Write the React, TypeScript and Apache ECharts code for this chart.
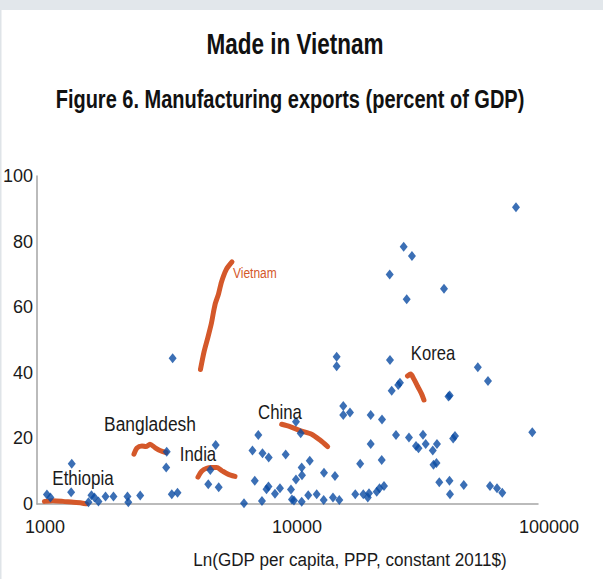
import React, { useEffect, useRef } from "react";
import * as echarts from "echarts";

const FONT = '"Liberation Sans", Arial, sans-serif';

// Scatter: GDP per capita (PPP, constant 2011$) vs manufacturing exports (% of GDP)
const gdpPerCapita = [
  1018, 1051, 1277, 1270, 1488, 1529, 1572, 1630, 1739, 1870, 2125, 2141, 2387, 3041, 3027, 3186, 3357, 3211,
  4758, 4529, 4446, 4891, 6163, 7022, 6659, 7296, 7722, 9020, 6800, 7262, 7568, 7707, 8178, 8560, 9466, 9553,
  9730, 9909, 9909, 10344, 10440, 10440, 10467, 11238, 11084, 11973, 12798, 12764, 14150, 13895, 14720, 14370,
  14370, 15266, 15266, 16232, 17815, 17034, 18332, 19310, 19100, 20718, 21257, 22148, 19614, 21747, 19614, 21690,
  23390, 23760, 25230, 25620, 23330, 26510, 28590, 27250, 38320, 73960, 24710, 27820, 31620, 32410, 29670, 30350,
  34580, 35930, 34810, 35770, 36700, 40290, 40470, 45900, 40360, 52190, 57270, 41670, 42360, 58330, 62190, 65260,
  85840, 39920,
];
const mfgExports = [
  2.9, 2.0, 12.3, 3.6, 0.5, 2.7, 2.0, 0.8, 2.3, 2.3, 2.3, 0.5, 2.6, 15.9, 11.1, 3.0, 3.4, 44.4,
  18.0, 10.4, 6.0, 5.1, 0.2, 21.0, 16.3, 15.5, 14.2, 15.1, 7.1, 0.9, 4.5, 5.3, 3.1, 4.8, 4.4, 1.4,
  1.1, 7.5, 25.1, 21.6, 0.7, 11.1, 8.8, 13.2, 2.7, 3.0, 9.5, 1.2, 8.5, 2.0, 1.2, 44.9,
  42.0, 29.9, 27.1, 27.9, 12.3, 3.0, 3.0, 3.3, 2.0, 3.75, 4.8, 5.5, 27.1, 25.8, 18.3, 13.4,
  43.9, 34.5, 36.3, 37.0, 70.0, 78.4, 75.6, 62.4, 65.6, 90.5, 21.0, 20.3, 21.1, 18.3, 17.7, 17.0,
  16.3, 18.3, 12.0, 12.5, 6.6, 7.1, 3.0, 5.8, 33.1, 41.7, 37.5, 20.0, 20.7, 5.5, 4.8, 3.4,
  21.9, 32.8,
];

// Country trajectories
const vietnamX = [4140, 4275, 4434, 4578, 4663, 4749, 4881, 5017, 5251, 5522];
const vietnamY = [41.0, 46.3, 50.9, 55.2, 58.5, 61.3, 64.0, 67.7, 71.6, 73.8];
const bangladeshX = [2255, 2318, 2426, 2516, 2610, 2732, 2860, 3021];
const bangladeshY = [15.2, 17.1, 17.7, 17.5, 18.2, 17.2, 16.3, 15.7];
const indiaX = [4047, 4186, 4382, 4586, 4801, 5026, 5323, 5675];
const indiaY = [8.2, 10.0, 10.9, 11.1, 11.1, 10.2, 9.1, 8.4];
const chinaX = [8694, 9380, 10278, 11436, 12340, 13237];
const chinaY = [24.3, 23.6, 22.4, 21.3, 19.5, 17.5];
const koreaX = [27450, 28270, 29000, 30300, 31250, 31910];
const koreaY = [39.0, 39.6, 38.3, 35.5, 33.5, 31.7];
const ethiopiaX = [995, 1076, 1179, 1297, 1381, 1461];
const ethiopiaY = [0.8, 1.0, 0.8, 0.5, 0.4, 0.0];

const yTicks = { min: 0, max: 100, interval: 20 };
const xTickRange = { min: 1000, max: 100000 };
const xAxisExtent = { min: 930, max: 90450 };

const TITLE = "Made in Vietnam";
const SUBTITLE = "Figure 6. Manufacturing exports (percent of GDP)";
const X_NAME = "Ln(GDP per capita, PPP, constant 2011$)";

const BLUE = "#0a4ba2";
const ORANGE = "#d4582a";
const AXIS = "#a5a5a5";
const TEXT = "#1a1a1a";

const zip = (xs: number[], ys: number[]) => xs.map((x, i) => [x, ys[i]]);

function lineSeries(name: string, xs: number[], ys: number[]) {
  return {
    name,
    type: "line",
    xAxisIndex: 0,
    yAxisIndex: 0,
    data: zip(xs, ys),
    showSymbol: false,
    symbol: "none",
    smooth: 0.25,
    lineStyle: { color: ORANGE, width: 5, cap: "round", join: "round" },
    z: 2,
  };
}

function txt(text: string, x: number, y: number, size: number, sx: number, extra: any = {}) {
  return {
    type: "text",
    x,
    y,
    scaleX: sx,
    z: 10,
    style: {
      text,
      fontSize: size,
      fontFamily: FONT,
      fill: TEXT,
      align: "center",
      verticalAlign: "middle",
      textAlign: "center",
      textVerticalAlign: "middle",
      ...extra,
    },
  };
}

export default function App() {
  const ref = useRef<HTMLDivElement>(null);
  useEffect(() => {
    document.body.style.margin = "0";
    const chart = echarts.init(ref.current!, null, { renderer: "svg" });
    const option: any = {
      animation: false,
      backgroundColor: "#ffffff",
      grid: [
        { left: 37, right: 65, top: 176, bottom: 75 },
        { left: 45, right: 54, top: 176, bottom: 75 },
      ],
      xAxis: [
        {
          gridIndex: 0,
          type: "log",
          logBase: 10,
          min: xAxisExtent.min,
          max: xAxisExtent.max,
          axisLine: { show: true, lineStyle: { color: AXIS, width: 1.5 } },
          axisTick: { show: false },
          axisLabel: { show: false },
          splitLine: { show: false },
        },
        {
          gridIndex: 1,
          type: "log",
          logBase: 10,
          min: xTickRange.min,
          max: xTickRange.max,
          axisLine: { show: false },
          axisTick: { show: false },
          splitLine: { show: false },
          axisLabel: {
            show: true,
            fontSize: 18,
            fontFamily: FONT,
            color: TEXT,
            margin: 14,
            formatter: (v: number) => String(Math.round(v)),
          },
        },
      ],
      yAxis: [
        {
          gridIndex: 0,
          type: "value",
          min: yTicks.min,
          max: yTicks.max,
          interval: yTicks.interval,
          axisLine: { show: true, lineStyle: { color: AXIS, width: 1.5 } },
          axisTick: { show: false },
          splitLine: { show: false },
          axisLabel: { fontSize: 18, fontFamily: FONT, color: TEXT, margin: 4 },
        },
        { gridIndex: 1, type: "value", min: 0, max: 100, show: false },
      ],
      graphic: [
        { type: "rect", shape: { x: 0, y: 0, width: 603, height: 10 }, style: { fill: "#e2e7eb" }, z: 0 },
        { type: "rect", shape: { x: 0, y: 10, width: 1.5, height: 569 }, style: { fill: "#dfe4e8" }, z: 0 },
        txt(TITLE, 295, 44, 30, 0.75, { fontWeight: "bold", fill: "#111" }),
        txt(SUBTITLE, 290, 100, 25, 0.8, { fontWeight: "bold", fill: "#111" }),
        txt(X_NAME, 350, 560, 19, 0.9),
        txt("Ethiopia", 83, 478, 20, 0.85),
        txt("Bangladesh", 150, 424, 20, 0.87),
        txt("India", 198, 454, 20, 0.84),
        txt("China", 280, 412, 20, 0.84),
        txt("Korea", 433, 353, 20, 0.83),
        txt("Vietnam", 233, 273, 15, 0.8, { fill: ORANGE, align: "left", textAlign: "left" }),
      ],
      series: [
        lineSeries("Ethiopia", ethiopiaX, ethiopiaY),
        lineSeries("Bangladesh", bangladeshX, bangladeshY),
        lineSeries("India", indiaX, indiaY),
        lineSeries("China", chinaX, chinaY),
        lineSeries("Korea", koreaX, koreaY),
        lineSeries("Vietnam", vietnamX, vietnamY),
        {
          name: "Countries",
          type: "scatter",
          xAxisIndex: 0,
          yAxisIndex: 0,
          data: zip(gdpPerCapita, mfgExports),
          symbol: "diamond",
          symbolSize: [8, 10],
          itemStyle: { color: BLUE },
          z: 3,
        },
      ],
    };
    chart.setOption(option);
    return () => chart.dispose();
  }, []);
  return <div ref={ref} style={{ width: 603, height: 579 }} />;
}
